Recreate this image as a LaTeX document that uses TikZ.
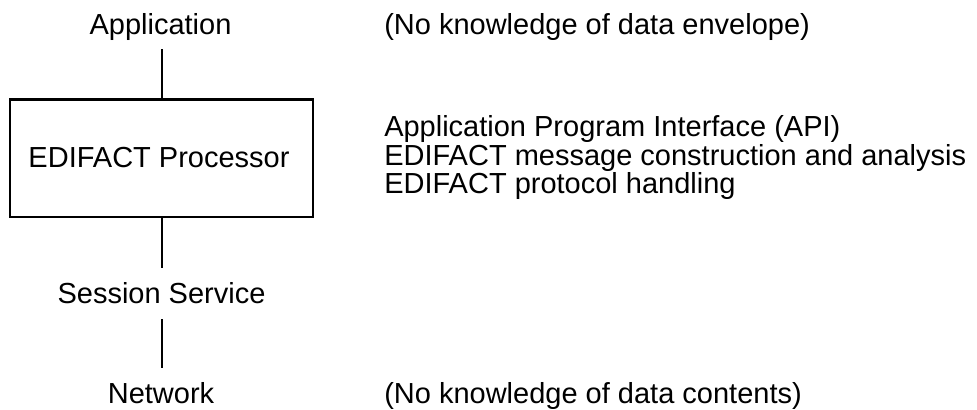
\documentclass[tikz,border=0pt]{standalone}
\usepackage{fontspec}
\setmainfont{Liberation Sans}
\begin{document}
\begin{tikzpicture}[x=0.75pt,y=-0.75pt,
  txt/.style={font=\fontsize{21.75pt}{26pt}\selectfont, inner sep=0pt},
  layer/.style={txt, text height=15.75pt, text depth=4.5pt, anchor=base},
  note/.style={txt, anchor=base west},
  procbox/.style={txt, draw, line width=1.8pt, minimum width=227pt, minimum height=88pt},
  link/.style={line width=1.5pt}]
  \useasboundingbox (0,0) rectangle (977,410);

  % protocol stack, left column
  \node[layer] (app) at (160.5,35) {Application};
  \node[procbox] (proc) at (161.5,158.3) {};
  \node[txt, anchor=base] (proclabel) at (159,167) {EDIFACT Processor};
  \node[layer] (sess) at (161.5,303) {Session Service};
  \node[layer] (net) at (161,403) {Network};

  \draw[link, shorten <=6pt] (app.south -| proc.north) -- (proc.north);
  \draw[link, shorten >=10.5pt] (proc.south) -- (proc.south |- sess.north);
  \draw[link, shorten <=7.5pt, shorten >=10.5pt] (proc.south |- sess.south) -- (proc.south |- net.north);

  % remarks, right column
  \node[note] (envelope) at (384,35) {(No knowledge of data envelope)};
  \node[note] (api) at (384,136) {Application Program Interface (API)};
  \node[note] (msg) at (384,165) {EDIFACT message construction and analysis};
  \node[note] (proto) at (384,193.5) {EDIFACT protocol handling};
  \node[note] (contents) at (384,403) {(No knowledge of data contents)};
\end{tikzpicture}
\end{document}
